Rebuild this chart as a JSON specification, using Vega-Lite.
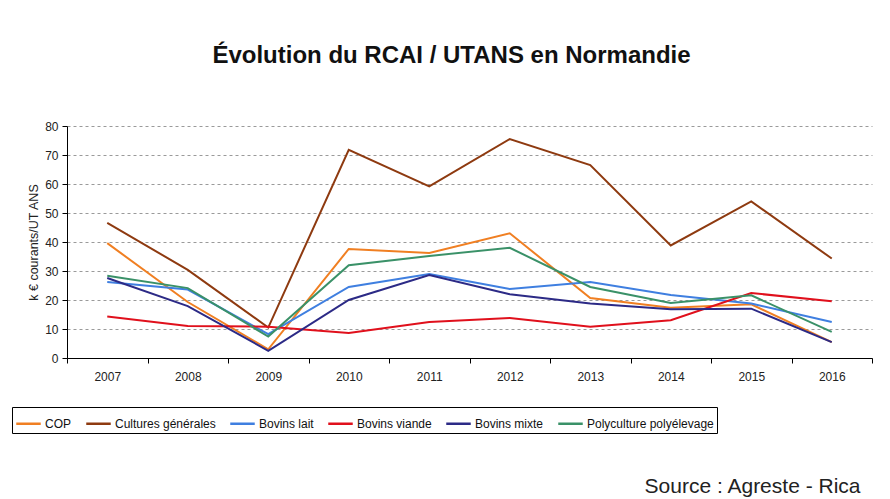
{
  "$schema": "https://vega.github.io/schema/vega-lite/v6.json",
  "width": 805,
  "height": 232,
  "autosize": "none",
  "padding": {"left": 67, "top": 126, "right": 18, "bottom": 141},
  "background": "white",
  "title": {
    "text": "Évolution du RCAI / UTANS en Normandie",
    "font": "Liberation Sans",
    "fontSize": 24,
    "fontWeight": "bold",
    "color": "#111111",
    "anchor": "middle",
    "frame": "group",
    "dx": -18,
    "offset": 52
  },
  "data": {
    "values": [
      {"year": "2007", "serie": "COP", "value": 39.6},
      {"year": "2008", "serie": "COP", "value": 19.3},
      {"year": "2009", "serie": "COP", "value": 3},
      {"year": "2010", "serie": "COP", "value": 37.6},
      {"year": "2011", "serie": "COP", "value": 36.2},
      {"year": "2012", "serie": "COP", "value": 43},
      {"year": "2013", "serie": "COP", "value": 20.7},
      {"year": "2014", "serie": "COP", "value": 17.3},
      {"year": "2015", "serie": "COP", "value": 18.5},
      {"year": "2016", "serie": "COP", "value": 5.5},
      {"year": "2007", "serie": "Cultures générales", "value": 46.6},
      {"year": "2008", "serie": "Cultures générales", "value": 30.4},
      {"year": "2009", "serie": "Cultures générales", "value": 10.5},
      {"year": "2010", "serie": "Cultures générales", "value": 71.8},
      {"year": "2011", "serie": "Cultures générales", "value": 59.2},
      {"year": "2012", "serie": "Cultures générales", "value": 75.5},
      {"year": "2013", "serie": "Cultures générales", "value": 66.5},
      {"year": "2014", "serie": "Cultures générales", "value": 38.8},
      {"year": "2015", "serie": "Cultures générales", "value": 54},
      {"year": "2016", "serie": "Cultures générales", "value": 34.3},
      {"year": "2007", "serie": "Bovins lait", "value": 26.2},
      {"year": "2008", "serie": "Bovins lait", "value": 23.6},
      {"year": "2009", "serie": "Bovins lait", "value": 8.2},
      {"year": "2010", "serie": "Bovins lait", "value": 24.5},
      {"year": "2011", "serie": "Bovins lait", "value": 29},
      {"year": "2012", "serie": "Bovins lait", "value": 23.8},
      {"year": "2013", "serie": "Bovins lait", "value": 26.2},
      {"year": "2014", "serie": "Bovins lait", "value": 21.7},
      {"year": "2015", "serie": "Bovins lait", "value": 18.8},
      {"year": "2016", "serie": "Bovins lait", "value": 12.4},
      {"year": "2007", "serie": "Bovins viande", "value": 14.3},
      {"year": "2008", "serie": "Bovins viande", "value": 11},
      {"year": "2009", "serie": "Bovins viande", "value": 10.8},
      {"year": "2010", "serie": "Bovins viande", "value": 8.6},
      {"year": "2011", "serie": "Bovins viande", "value": 12.4},
      {"year": "2012", "serie": "Bovins viande", "value": 13.8},
      {"year": "2013", "serie": "Bovins viande", "value": 10.8},
      {"year": "2014", "serie": "Bovins viande", "value": 13},
      {"year": "2015", "serie": "Bovins viande", "value": 22.4},
      {"year": "2016", "serie": "Bovins viande", "value": 19.6},
      {"year": "2007", "serie": "Bovins mixte", "value": 27.6},
      {"year": "2008", "serie": "Bovins mixte", "value": 17.9},
      {"year": "2009", "serie": "Bovins mixte", "value": 2.5},
      {"year": "2010", "serie": "Bovins mixte", "value": 20},
      {"year": "2011", "serie": "Bovins mixte", "value": 28.6},
      {"year": "2012", "serie": "Bovins mixte", "value": 22},
      {"year": "2013", "serie": "Bovins mixte", "value": 18.8},
      {"year": "2014", "serie": "Bovins mixte", "value": 16.8},
      {"year": "2015", "serie": "Bovins mixte", "value": 17},
      {"year": "2016", "serie": "Bovins mixte", "value": 5.5},
      {"year": "2007", "serie": "Polyculture polyélevage", "value": 28.4},
      {"year": "2008", "serie": "Polyculture polyélevage", "value": 24.1},
      {"year": "2009", "serie": "Polyculture polyélevage", "value": 7.4},
      {"year": "2010", "serie": "Polyculture polyélevage", "value": 32},
      {"year": "2011", "serie": "Polyculture polyélevage", "value": 35.2},
      {"year": "2012", "serie": "Polyculture polyélevage", "value": 38},
      {"year": "2013", "serie": "Polyculture polyélevage", "value": 24.5},
      {"year": "2014", "serie": "Polyculture polyélevage", "value": 19},
      {"year": "2015", "serie": "Polyculture polyélevage", "value": 21.6},
      {"year": "2016", "serie": "Polyculture polyélevage", "value": 9}
    ]
  },
  "mark": {"type": "line", "strokeWidth": 2, "clip": false},
  "encoding": {
    "x": {
      "field": "year",
      "type": "ordinal",
      "bandPosition": 0.5,
      "scale": {"type": "band", "paddingInner": 0, "paddingOuter": 0},
      "axis": {
        "labelAngle": 0,
        "tickBand": "extent",
        "domainColor": "#000000",
        "tickColor": "#000000",
        "tickSize": 5,
        "labelFont": "Liberation Sans",
        "labelFontSize": 12,
        "labelColor": "#222222",
        "labelPadding": 8,
        "title": "Source : Agreste - Rica",
        "titleFont": "Liberation Sans",
        "titleFontSize": 21,
        "titleFontWeight": "normal",
        "titleColor": "#222222",
        "titleAlign": "right",
        "titleBaseline": "alphabetic",
        "titleX": 793,
        "titleY": 134
      }
    },
    "y": {
      "field": "value",
      "type": "quantitative",
      "scale": {"domain": [0, 80], "nice": false},
      "axis": {
        "values": [0, 10, 20, 30, 40, 50, 60, 70, 80],
        "grid": true,
        "gridDash": [3, 3],
        "gridColor": "#9a9a9a",
        "domainColor": "#000000",
        "tickColor": "#000000",
        "tickSize": 5,
        "labelFont": "Liberation Sans",
        "labelFontSize": 12,
        "labelColor": "#222222",
        "labelPadding": 4,
        "title": "k € courants/UT ANS",
        "titleFont": "Liberation Sans",
        "titleFontSize": 12.5,
        "titleFontWeight": "normal",
        "titleColor": "#222222",
        "titlePadding": 4
      }
    },
    "color": {
      "field": "serie",
      "type": "nominal",
      "scale": {
        "domain": ["COP", "Cultures générales", "Bovins lait", "Bovins viande", "Bovins mixte", "Polyculture polyélevage"],
        "range": ["#F07F22", "#8E3A10", "#3F7FE0", "#E0101C", "#2C2A86", "#3A9168"]
      },
      "legend": {
        "orient": "none",
        "legendX": -55,
        "legendY": 281,
        "direction": "horizontal",
        "title": null,
        "symbolType": "stroke",
        "symbolSize": 600,
        "symbolStrokeWidth": 2.5,
        "labelFont": "Liberation Sans",
        "labelFontSize": 12,
        "labelColor": "#111111",
        "labelOffset": 3,
        "columnPadding": 9,
        "strokeColor": "#000000",
        "padding": 3,
        "fillColor": "white"
      }
    }
  },
  "config": {"view": {"stroke": null}}
}
